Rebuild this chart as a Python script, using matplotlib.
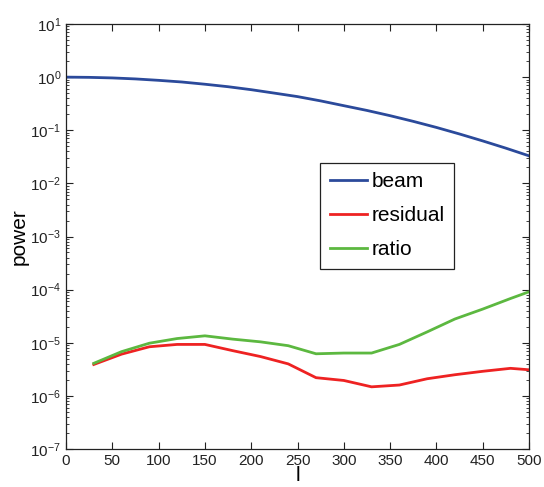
import matplotlib
matplotlib.use("Agg")
import matplotlib.pyplot as plt
import numpy as np

plt.rcParams['font.family'] = ['Liberation Sans', 'DejaVu Sans']
plt.rcParams['mathtext.fontset'] = 'custom'
plt.rcParams['mathtext.rm'] = 'Liberation Sans'
plt.rcParams['mathtext.it'] = 'Liberation Sans:italic'

# beam every 25
beam_l = [0, 25, 50, 75, 100, 125, 150, 175, 200, 225, 250, 275, 300,
          325, 350, 375, 400, 425, 450, 475, 500]
beam = [1.0, 0.99, 0.966, 0.925, 0.87, 0.81, 0.735, 0.66, 0.58, 0.50, 0.43,
        0.357, 0.29, 0.236, 0.188, 0.147, 0.113, 0.085, 0.063, 0.046, 0.033]

# residual / ratio sampled every 30
ell = [30, 60, 90, 120, 150, 180, 210, 240, 270, 300, 330, 360, 390, 420,
       450, 480, 500]
residual = [3.9e-6, 6.1e-6, 8.4e-6, 9.3e-6, 9.3e-6, 7.1e-6, 5.5e-6, 4.0e-6,
            2.2e-6, 1.95e-6, 1.48e-6, 1.6e-6, 2.1e-6, 2.5e-6, 2.9e-6,
            3.3e-6, 3.1e-6]
ratio = [4.1e-6, 6.8e-6, 9.8e-6, 1.2e-5, 1.35e-5, 1.17e-5, 1.04e-5, 8.8e-6,
         6.2e-6, 6.4e-6, 6.4e-6, 9.3e-6, 1.6e-5, 2.8e-5, 4.3e-5, 6.8e-5,
         9.1e-5]

fig = plt.figure(figsize=(5.44, 4.87), dpi=100)
ax = fig.add_axes([66/544, 38/487, 463/544, 425/487])

ax.plot(beam_l, beam, color='#2b4a9b', lw=2.0, label='beam')
ax.plot(ell, residual, color='#ee2222', lw=2.0, label='residual')
ax.plot(ell, ratio, color='#5cb840', lw=2.0, label='ratio')

ax.set_yscale('log')
ax.set_xlim(0, 500)
ax.set_ylim(1e-7, 1e1)
ax.set_xticks(np.arange(0, 501, 50))
ax.set_yticks([10.0**k for k in range(-7, 2)])
ax.tick_params(which='both', direction='in', top=True, right=True,
               labelsize=11, color='#222222', labelcolor='#222222')
ax.tick_params(which='major', length=5)
ax.tick_params(which='minor', length=2.5)
for s in ax.spines.values():
    s.set_linewidth(0.9)
    s.set_color('#222222')

ax.set_xlabel('l', fontsize=15, labelpad=-1)
ax.set_ylabel('power', fontsize=15, labelpad=1)

leg = ax.legend(loc='upper left', bbox_to_anchor=(0.549, 0.673),
                borderaxespad=0, fontsize=15, fancybox=False,
                edgecolor='#222222', framealpha=1, handlelength=1.8,
                handletextpad=0.2, labelspacing=0.72, borderpad=0.45)
leg.get_frame().set_linewidth(0.9)
for line in leg.get_lines():
    line.set_linewidth(2.0)

fig.savefig('out.png', dpi=100)
